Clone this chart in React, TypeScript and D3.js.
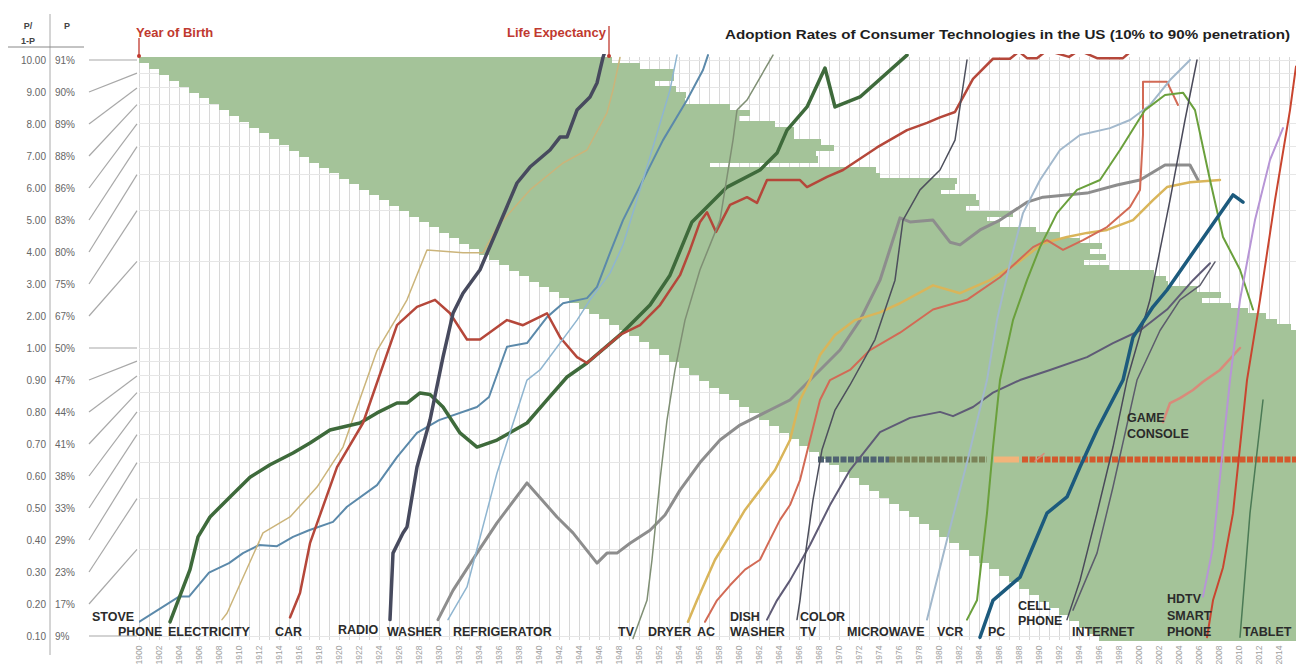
import React from 'react';
import * as d3 from 'd3';

type Pt = [number, number];

// ---------- axis / tick data ----------
const yTickValues = [10, 9, 8, 7, 6, 5, 4, 3, 2, 1, 0.9, 0.8, 0.7, 0.6, 0.5, 0.4, 0.3, 0.2, 0.1];
const yTickPct = ['91%', '90%', '89%', '88%', '86%', '83%', '80%', '75%', '67%', '50%', '47%', '44%', '41%', '38%', '33%', '29%', '23%', '17%', '9%'];
const yearLabels = d3.range(1900, 2015, 2);
const gridYears = d3.range(1900, 2016);
const gridOdds = [0.1, 0.2, 0.3, 0.4, 0.5, 0.6, 0.7, 0.8, 0.9, 1, 2, 3, 4, 5, 6, 7, 8, 9, 10];

// ---------- life expectancy (green lifetime bars) ----------
const birthYears = d3.range(1900, 1997);
const lifeExpectancy = [
  47.3, 49.1, 51.5, 50.5, 47.6, 48.7, 48.7, 47.6, 51.1, 52.1,
  50.0, 52.6, 53.5, 52.5, 54.2, 54.5, 51.7, 50.9, 39.1, 54.7,
  54.1, 60.8, 59.6, 57.2, 59.7, 59.0, 56.7, 60.4, 56.8, 57.1,
  59.7, 61.1, 62.1, 63.3, 61.1, 61.7, 58.5, 60.0, 63.5, 63.7,
  62.9, 64.8, 66.2, 63.3, 65.2, 65.9, 66.7, 66.8, 67.2, 68.0,
  68.2, 68.4, 68.6, 68.8, 69.6, 69.6, 69.7, 69.5, 69.6, 69.9,
  69.7, 70.2, 70.1, 69.9, 70.2, 70.2, 70.2, 70.5, 70.2, 70.5,
  70.8, 71.1, 71.2, 71.4, 72.0, 72.6, 72.9, 73.3, 73.5, 73.9,
  73.7, 74.1, 74.5, 74.6, 74.7, 74.7, 74.7, 74.9, 74.9, 75.1,
  75.4, 75.5, 75.8, 75.5, 75.7, 75.8, 76.1,
];

// ---------- adoption series: [year, P/(1-P)] ----------
const stove: Pt[] = [[1900, 0.112], [1904, 0.137], [1905, 0.137], [1907, 0.166], [1909, 0.179], [1910.4, 0.194], [1912, 0.207], [1913.8, 0.205], [1915.4, 0.221], [1917, 0.233], [1919.4, 0.249], [1920.8, 0.281], [1923.8, 0.334], [1925.8, 0.418], [1927.8, 0.507], [1930, 0.562], [1933.8, 0.624], [1935, 0.676], [1936.8, 1.01], [1938.8, 1.04], [1940.8, 1.28], [1942.4, 1.43], [1944.8, 1.49], [1945.8, 1.63], [1947.1, 2.14], [1948.4, 2.78], [1952.4, 5.27], [1954.8, 7.26], [1956.4, 9.23], [1956.9, 10.4]];
const phone: Pt[] = [[1903.1, 0.112], [1905.1, 0.17], [1905.9, 0.221], [1907.1, 0.259], [1909.1, 0.304], [1911.1, 0.356], [1913.1, 0.393], [1915.4, 0.432], [1917.1, 0.468], [1919.1, 0.519], [1922.1, 0.549], [1923.8, 0.595], [1925.8, 0.644], [1926.8, 0.644], [1928.1, 0.698], [1929.1, 0.69], [1930.4, 0.624], [1932.1, 0.507], [1933.8, 0.453], [1935.8, 0.479], [1938.8, 0.549], [1940.8, 0.66], [1942.8, 0.793], [1944.8, 0.887], [1948.1, 1.11], [1951.1, 1.41], [1953.1, 1.79], [1955.3, 2.74], [1958.8, 3.62], [1962.1, 4.15], [1963.8, 4.75], [1964.8, 5.71], [1966.8, 6.87], [1968.6, 9.38], [1969.6, 6.87], [1972.1, 7.44], [1976.8, 10.4]];
const electricity: Pt[] = [[1908.3, 0.114], [1908.8, 0.12], [1912.4, 0.228], [1915.1, 0.259], [1917.8, 0.329], [1920.4, 0.453], [1923.8, 0.98], [1925.8, 1.28], [1926.8, 1.47], [1928.8, 2.19], [1932.4, 2.14], [1934.4, 2.14], [1935.8, 2.63], [1939.1, 3.54], [1942.4, 4.39], [1944.8, 4.87], [1946.8, 6.55], [1947.4, 7.87], [1948.1, 10.2]];
const car: Pt[] = [[1915.1, 0.116], [1916.1, 0.141], [1917.1, 0.21], [1919.8, 0.386], [1922.4, 0.549], [1925.8, 1.2], [1927.8, 1.39], [1929.6, 1.47], [1931.1, 1.32], [1932.8, 1.07], [1934.1, 1.07], [1936.8, 1.25], [1938.4, 1.2], [1940.8, 1.32], [1942.1, 1.09], [1943.8, 0.93], [1944.8, 0.887], [1948.1, 1.11], [1950.1, 1.2], [1952.1, 1.41], [1954.1, 1.79], [1955.1, 2.19], [1956.1, 2.74], [1956.8, 2.96], [1957.7, 2.53], [1959.1, 3.14], [1960.8, 3.34], [1961.8, 3.19], [1962.8, 3.83], [1966.1, 3.83], [1966.8, 3.62], [1968.8, 3.93], [1970.4, 4.15], [1973.8, 4.97], [1976.8, 5.71], [1978.8, 6.05], [1980.1, 6.32], [1981.6, 6.6], [1983.4, 8.6], [1985.4, 10.1], [1987.1, 10.1], [1988, 10.7], [1988.8, 10.15], [1989.8, 10.15], [1990.8, 10.8], [1993, 10.25], [1994, 10.8], [1995.8, 10.15], [1998.4, 10.15], [1999.3, 10.8]];
const radio: Pt[] = [[1925.1, 0.114], [1925.4, 0.194], [1926.4, 0.228], [1926.8, 0.239], [1927.8, 0.386], [1929.1, 0.562], [1930.4, 0.93], [1931.4, 1.32], [1932.4, 1.55], [1934.1, 1.87], [1935.8, 2.57], [1937.8, 3.74], [1939.1, 4.25], [1941.1, 4.87], [1942.1, 5.4], [1942.8, 5.4], [1943.8, 6.7], [1945.1, 7.44], [1945.8, 8.32], [1946.1, 9.23], [1946.4, 10.2], [1946.7, 11]];
const washer: Pt[] = [[1929.9, 0.114], [1931.4, 0.144], [1933.8, 0.194], [1935.8, 0.247], [1938.8, 0.34], [1941.8, 0.259], [1943.4, 0.228], [1945.8, 0.179], [1946.8, 0.194], [1947.8, 0.194], [1949.1, 0.21], [1951.1, 0.233], [1952.6, 0.263], [1954.1, 0.321], [1956.1, 0.4], [1958.1, 0.479], [1960.1, 0.54], [1963.1, 0.609], [1965.1, 0.66], [1967.1, 0.774], [1970.1, 0.984], [1972.1, 1.25], [1974.1, 1.72], [1976.1, 2.83], [1977.1, 2.74], [1979.4, 2.78], [1981.1, 2.33], [1982.1, 2.28], [1984.1, 2.57], [1986.1, 2.78], [1988.8, 3.21], [1990.4, 3.34], [1994.8, 3.45], [1997.8, 3.68], [2000.1, 3.83], [2002.6, 4.32], [2005.1, 4.32], [2005.9, 3.83]];
const refrigerator: Pt[] = [[1930.9, 0.114], [1932.8, 0.148], [1935.8, 0.368], [1938.8, 0.774], [1940.1, 0.839], [1943.8, 1.25], [1945.1, 1.47], [1947.1, 1.82], [1948.4, 2.28], [1950.8, 4.25], [1953.1, 7.87], [1953.8, 10.4]];
const tv: Pt[] = [[1949.4, 0.098], [1950.8, 0.133], [1951.3, 0.184], [1952.1, 0.348], [1952.8, 0.562], [1953.6, 0.839], [1954.6, 1.25], [1956.1, 1.87], [1958.1, 2.78], [1959.4, 5.27], [1959.8, 6.7], [1960.8, 7.26], [1963.4, 10.4]];
const dryer: Pt[] = [[1954.9, 0.112], [1955.8, 0.133], [1957.6, 0.184], [1959.1, 0.224], [1960.6, 0.274], [1962.1, 0.321], [1963.6, 0.377], [1965.1, 0.479], [1966.1, 0.66], [1967.1, 0.774], [1968.1, 0.946], [1969.6, 1.11], [1971.6, 1.25], [1974.1, 1.33], [1976.1, 1.43], [1979.4, 1.65], [1982.1, 1.55], [1985.1, 1.72], [1987.8, 1.97], [1990.4, 2.31], [1992.8, 2.43], [1994.8, 2.51], [1996.8, 2.57], [1999.4, 2.78], [2001.4, 3.26], [2002.8, 3.62], [2005.1, 3.76], [2008.1, 3.83]];
const ac: Pt[] = [[1956.6, 0.112], [1957.8, 0.133], [1959.1, 0.15], [1960.6, 0.17], [1962.1, 0.184], [1963.1, 0.216], [1964.1, 0.253], [1965.1, 0.285], [1966.1, 0.348], [1967.1, 0.479], [1968.1, 0.66], [1969.1, 0.774], [1971.1, 0.839], [1973.1, 0.984], [1976.1, 1.13], [1979.4, 1.36], [1982.8, 1.47], [1986.1, 1.76], [1989.4, 2.24], [1990.8, 2.37], [1992.4, 2.19], [1994.4, 2.37], [1996.8, 2.63], [1999.1, 3.09], [2000.1, 3.54], [2000.4, 5.5], [2000.4, 8.4], [2002.8, 8.4], [2003.9, 6.98]];
const dishwasher: Pt[] = [[1962.8, 0.114], [1963.8, 0.133], [1965.1, 0.156], [1967.1, 0.207], [1969.1, 0.285], [1971.1, 0.377], [1974.1, 0.51], [1977.1, 0.572], [1980.1, 0.6], [1981.4, 0.58], [1983.4, 0.624], [1985.4, 0.7], [1988.1, 0.774], [1991.1, 0.839], [1994.8, 0.93], [1997.4, 1.04], [2000.1, 1.15], [2002.8, 1.36], [2005.4, 1.72], [2007.1, 1.97]];
const colorTv: Pt[] = [[1965.8, 0.114], [1966.1, 0.133], [1966.7, 0.199], [1967.4, 0.297], [1968.3, 0.443], [1969.6, 0.609], [1971.1, 0.744], [1973.6, 1.07], [1975.6, 1.72], [1976.4, 2.78], [1978.1, 3.54], [1980.1, 4.15], [1981.6, 5.27], [1982.8, 10.0]];
const microwave: Pt[] = [[1978.8, 0.114], [1980.8, 0.216], [1982.8, 0.4], [1984.8, 0.774], [1985.8, 1.25], [1987.1, 1.97], [1988.4, 2.94], [1990.1, 3.83], [1992.1, 4.87], [1994.1, 5.49], [1997.1, 5.8], [1999.1, 6.19], [2001.1, 6.98], [2003.1, 8.52], [2005.1, 10.0]];
const vcr: Pt[] = [[1982.8, 0.114], [1983.8, 0.133], [1984.8, 0.267], [1985.4, 0.453], [1986.1, 0.774], [1987.4, 1.25], [1988.8, 1.72], [1990.1, 2.24], [1991.8, 2.94], [1993.8, 3.54], [1996.1, 3.83], [1998.1, 4.87], [2000.6, 6.7], [2002.6, 7.56], [2004.4, 7.7], [2005.6, 6.7], [2007.1, 3.83], [2008.4, 2.43], [2010.1, 1.87], [2011.4, 1.36]];
const pc: Pt[] = [[1984.1, 0.099], [1985.4, 0.133], [1988.1, 0.16], [1990.8, 0.267], [1992.8, 0.304], [1994.1, 0.386], [1995.8, 0.519], [1998.4, 0.774], [1999.4, 1.09], [2001.4, 1.39], [2002.8, 1.59], [2009.4, 3.4], [2010.4, 3.21]];
const cellPhone: Pt[] = [[1992.8, 0.114], [1994.1, 0.156], [1995.8, 0.267], [1997.4, 0.453], [1998.8, 0.774], [2001.1, 1.47], [2003.1, 3.26], [2004.6, 6.19], [2005.8, 10.0]];
const internet: Pt[] = [[1993.4, 0.123], [1995.8, 0.194], [1997.4, 0.329], [1999.8, 0.774], [2002.1, 1.15], [2004.1, 1.47], [2006.1, 1.65], [2007.6, 1.99]];
const gameConsole: Pt[] = [[2002.4, 0.553], [2003.1, 0.644], [2004.1, 0.67], [2005.4, 0.715], [2006.4, 0.763], [2008.1, 0.839], [2010.1, 1.0]];
const hdtv: Pt[] = [[2006.4, 0.137], [2007.4, 0.204], [2008.4, 0.453], [2009.1, 0.774], [2010.1, 1.47], [2011.6, 2.78], [2013.1, 4.5], [2014.4, 5.8]];
const smartPhone: Pt[] = [[2006.8, 0.099], [2007.4, 0.133], [2008.4, 0.173], [2009.4, 0.267], [2010.8, 0.774], [2012.1, 1.47], [2013.6, 3.26], [2015.1, 6.7], [2015.7, 9.5]];
const tablet: Pt[] = [[2010.1, 0.099], [2010.4, 0.133], [2011.1, 0.267], [2012.4, 0.66]];
const bandMark: Pt[] = [[1989.6, 0.405], [1990.5, 0.43]];

const bandOdds = 0.41;
const bandSegments = [
  { from: 1967.9, to: 1975, color: '#4f6272', dashed: true },
  { from: 1975, to: 1984.8, color: '#7a8257', dashed: true },
  { from: 1985.5, to: 1988, color: '#f2b47a', dashed: false },
  { from: 1988.3, to: 2015.7, color: '#d4582c', dashed: true },
];

const series = [
  { data: washer, color: '#8d8d8d', w: 3 },
  { data: stove, color: '#5b89aa', w: 2 },
  { data: electricity, color: '#cbb47a', w: 1.5 },
  { data: phone, color: '#3e6a3b', w: 3.5 },
  { data: car, color: '#b5473a', w: 2.5 },
  { data: radio, color: '#474a5e', w: 3.5 },
  { data: refrigerator, color: '#8fb5d0', w: 1.5 },
  { data: tv, color: '#7f8f74', w: 1.5 },
  { data: dryer, color: '#d9b55a', w: 2.5 },
  { data: ac, color: '#d26a55', w: 2 },
  { data: dishwasher, color: '#5f5b76', w: 2 },
  { data: colorTv, color: '#4d4f5c', w: 1.5 },
  { data: microwave, color: '#a2b8cc', w: 2 },
  { data: vcr, color: '#6aa03c', w: 2 },
  { data: cellPhone, color: '#4a4a5a', w: 1.5 },
  { data: internet, color: '#5c5c6c', w: 1.5 },
  { data: pc, color: '#1c5a7d', w: 3.5 },
  { data: gameConsole, color: '#d98a7a', w: 2.5 },
  { data: hdtv, color: '#b795d6', w: 2 },
  { data: smartPhone, color: '#c9452f', w: 2 },
  { data: tablet, color: '#4b7a55', w: 1.5 },
  { data: bandMark, color: '#d98a7a', w: 1.5 },
];

const techLabels: { text: string[]; year: number; odds: number; gap: number }[] = [
  { text: ['STOVE'], year: 1895.3, odds: 0.1125, gap: 15 },
  { text: ['PHONE'], year: 1897.9, odds: 0.1, gap: 15 },
  { text: ['ELECTRICITY'], year: 1902.9, odds: 0.1, gap: 15 },
  { text: ['CAR'], year: 1913.6, odds: 0.1, gap: 15 },
  { text: ['RADIO'], year: 1919.9, odds: 0.102, gap: 15 },
  { text: ['WASHER'], year: 1924.8, odds: 0.1, gap: 15 },
  { text: ['REFRIGERATOR'], year: 1931.4, odds: 0.1, gap: 15 },
  { text: ['TV'], year: 1947.9, odds: 0.1, gap: 15 },
  { text: ['DRYER'], year: 1950.9, odds: 0.1, gap: 15 },
  { text: ['AC'], year: 1955.8, odds: 0.1, gap: 15 },
  { text: ['DISH', 'WASHER'], year: 1959.1, odds: 0.1, gap: 15 },
  { text: ['COLOR', 'TV'], year: 1966.1, odds: 0.1, gap: 15 },
  { text: ['MICROWAVE'], year: 1970.8, odds: 0.1, gap: 15 },
  { text: ['VCR'], year: 1979.8, odds: 0.1, gap: 15 },
  { text: ['PC'], year: 1984.9, odds: 0.1, gap: 15 },
  { text: ['CELL', 'PHONE'], year: 1987.9, odds: 0.109, gap: 15 },
  { text: ['INTERNET'], year: 1993.3, odds: 0.1, gap: 15 },
  { text: ['HDTV', 'SMART', 'PHONE'], year: 2002.8, odds: 0.1, gap: 16.5 },
  { text: ['TABLET'], year: 2010.4, odds: 0.1, gap: 15 },
  { text: ['GAME', 'CONSOLE'], year: 1998.8, odds: 0.487, gap: 16 },
];

const FONT = 'Liberation Sans, Arial, Helvetica, sans-serif';

export default function App() {
  const left = 139, right = 1296, top = 57, bottom = 640;
  const x = d3.scaleLinear().domain([1900, 2015.7]).range([left, right]);
  const y = d3.scaleLog().domain([0.1, 10]).range([636, 60]);
  const labelY = d3.scaleLinear().domain([0, yTickValues.length - 1]).range([60, 636]);
  const rowY = d3.scaleLinear().domain([1900, 1918, 1950, 1997]).range([57, 162, 335, 640]);
  const line = d3.line<Pt>().x(d => x(d[0])).y(d => y(d[1]));
  const red = '#c0392f';

  return (
    <svg width={1296} height={672} style={{ position: 'absolute', left: 0, top: 0, background: '#fff' }} fontFamily={FONT}>
      <defs>
        <clipPath id="plot"><rect x={left} y={54} width={right - left} height={bottom - 54} /></clipPath>
      </defs>
      <rect x={0} y={0} width={1296} height={672} fill="#fff" />

      {/* grid */}
      <g stroke="#d8d8d8" strokeWidth={1} shapeRendering="crispEdges">
        {gridYears.map(yr => <line key={'v' + yr} x1={x(yr)} x2={x(yr)} y1={top} y2={bottom} />)}
        {gridOdds.map(o => <line key={'h' + o} x1={left} x2={right} y1={y(o)} y2={y(o)} stroke="#e6e6e6" />)}
      </g>

      {/* green lifetime rows */}
      <g fill="#a4c399" shapeRendering="crispEdges">
        {birthYears.map((b, i) => {
          const y0 = rowY(b), y1 = Math.min(rowY(b + 1), bottom);
          const x0 = x(b), x1 = Math.min(x(b + lifeExpectancy[i]), right);
          if (y0 >= bottom) return null;
          return <rect key={b} x={x0} y={y0} width={Math.max(0, x1 - x0)} height={y1 - y0 + 0.6} />;
        })}
      </g>

      {/* band */}
      <g clipPath="url(#plot)">
        {bandSegments.map((s, i) => (
          <line key={i} x1={x(s.from)} x2={x(s.to)} y1={y(bandOdds)} y2={y(bandOdds)} stroke={s.color} strokeWidth={6}
            strokeDasharray={s.dashed ? '6 1.5' : undefined} />
        ))}
      </g>

      {/* lines */}
      <g clipPath="url(#plot)" fill="none" strokeLinejoin="round" strokeLinecap="round">
        {series.map((s, i) => <path key={i} d={line(s.data) || ''} stroke={s.color} strokeWidth={s.w} />)}
      </g>

      {/* tech labels */}
      <g fontSize={12.5} fontWeight="bold" fill="#2b2b2b">
        {techLabels.map((l, i) => (
          <text key={i} x={x(l.year)} y={y(l.odds) - (l.text.length - 1) * l.gap}>
            {l.text.map((t, j) => <tspan key={j} x={x(l.year)} dy={j === 0 ? 0 : l.gap}>{t}</tspan>)}
          </text>
        ))}
      </g>

      {/* left axis */}
      <line x1={50} x2={50} y1={14} y2={655} stroke="#aaa" />
      <line x1={8} x2={84} y1={47} y2={47} stroke="#888" />
      <g fontSize={9} fontWeight="bold" fill="#444" textAnchor="middle">
        <text x={28} y={29}>P/</text>
        <text x={28} y={44}>1-P</text>
        <text x={67} y={29}>P</text>
      </g>
      <g fontSize={10} fill="#666">
        {yTickValues.map((v, i) => (
          <g key={i}>
            <text x={46} y={labelY(i) + 3.5} textAnchor="end">{v.toFixed(2)}</text>
            <text x={55} y={labelY(i) + 3.5}>{yTickPct[i]}</text>
            <line x1={89} x2={137} y1={labelY(i)} y2={y(v)} stroke="#a8a8a8" strokeWidth={1.2} />
          </g>
        ))}
      </g>

      {/* bottom year labels */}
      <g fontSize={8.5} fill="#a0a0a0" textAnchor="middle">
        {yearLabels.map(yr => (
          <text key={yr} transform={`translate(${x(yr) + 3},${655}) rotate(-90)`}>{yr}</text>
        ))}
      </g>

      {/* annotations */}
      <line x1={x(1900)} x2={x(1900)} y1={38} y2={57} stroke={red} strokeWidth={1.3} />
      <circle cx={x(1900)} cy={56} r={2} fill={red} />
      <text x={136} y={37} fontSize={13} fontWeight="bold" fill={red}>Year of Birth</text>
      <line x1={x(1947)} x2={x(1947)} y1={26} y2={57} stroke={red} strokeWidth={1.3} />
      <circle cx={x(1947)} cy={56} r={2} fill={red} />
      <text x={x(1947) - 3} y={37} fontSize={13} fontWeight="bold" fill={red} textAnchor="end">Life Expectancy</text>

      <text x={725} y={39} fontSize={12.5} fontWeight="bold" fill="#1e1e1e" textLength={565} lengthAdjust="spacingAndGlyphs">
        Adoption Rates of Consumer Technologies in the US (10% to 90% penetration)
      </text>
    </svg>
  );
}
